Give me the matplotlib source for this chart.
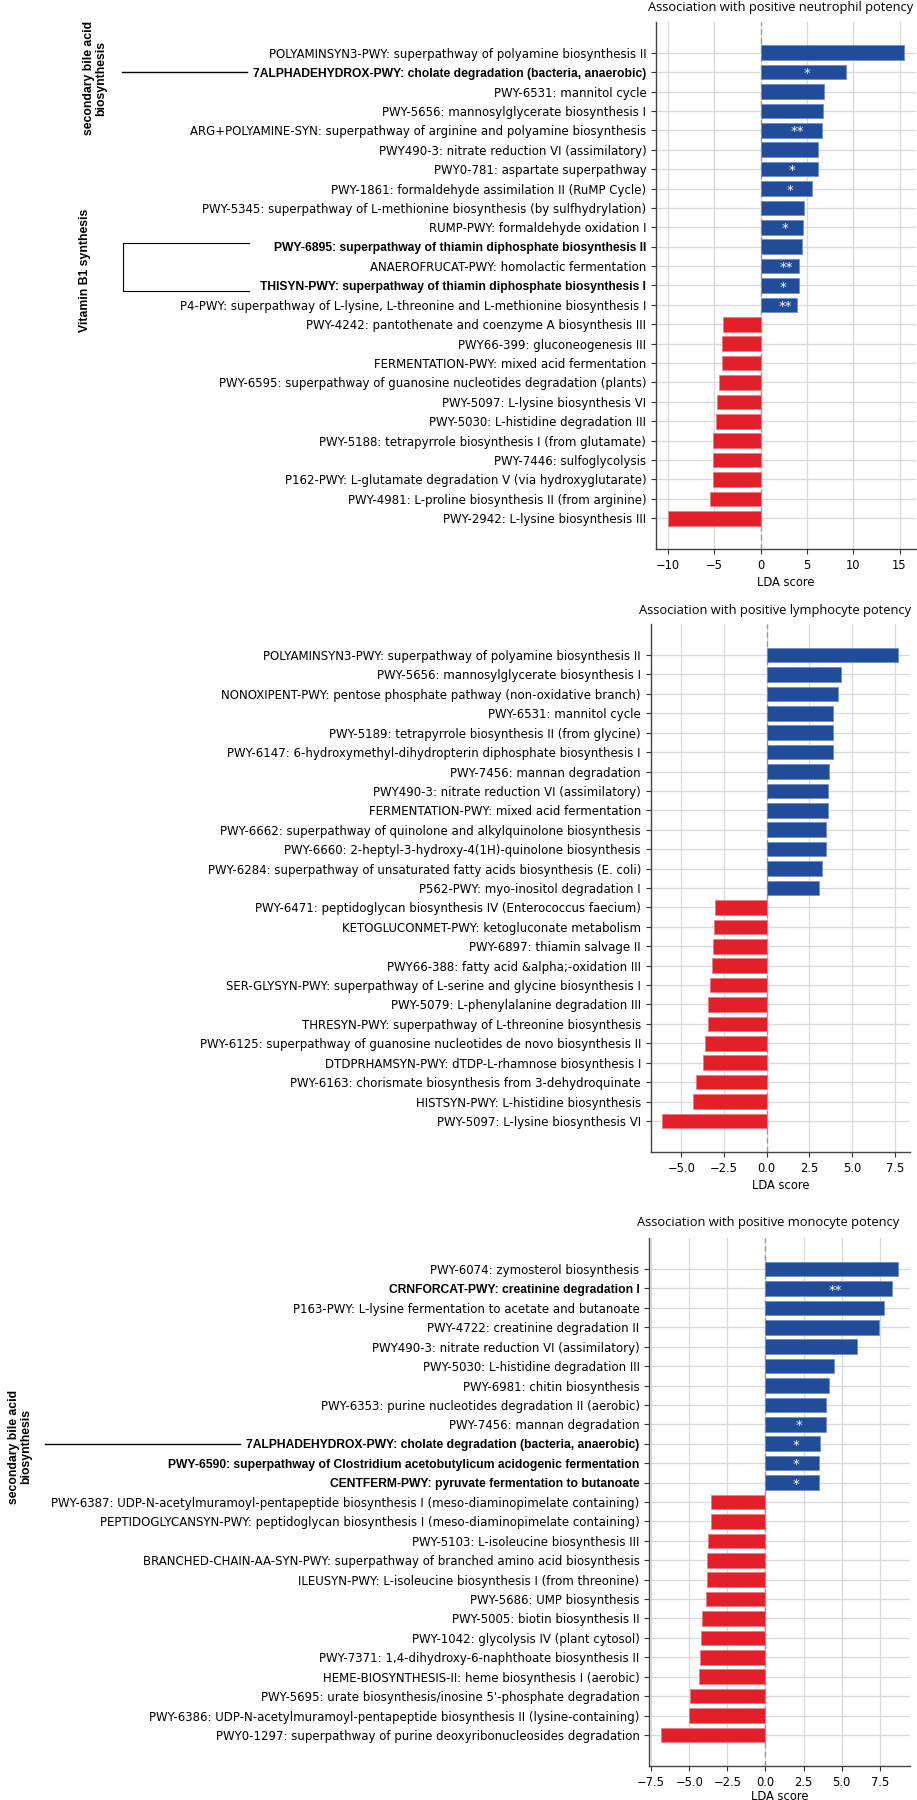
import matplotlib
matplotlib.use("Agg")
import matplotlib.pyplot as plt
from matplotlib.transforms import blended_transform_factory

# ---------------- data ----------------
neut_labels = [
    "POLYAMINSYN3-PWY: superpathway of polyamine biosynthesis II",
    "7ALPHADEHYDROX-PWY: cholate degradation (bacteria, anaerobic)",
    "PWY-6531: mannitol cycle",
    "PWY-5656: mannosylglycerate biosynthesis I",
    "ARG+POLYAMINE-SYN: superpathway of arginine and polyamine biosynthesis",
    "PWY490-3: nitrate reduction VI (assimilatory)",
    "PWY0-781: aspartate superpathway",
    "PWY-1861: formaldehyde assimilation II (RuMP Cycle)",
    "PWY-5345: superpathway of L-methionine biosynthesis (by sulfhydrylation)",
    "RUMP-PWY: formaldehyde oxidation I",
    "PWY-6895: superpathway of thiamin diphosphate biosynthesis II",
    "ANAEROFRUCAT-PWY: homolactic fermentation",
    "THISYN-PWY: superpathway of thiamin diphosphate biosynthesis I",
    "P4-PWY: superpathway of L-lysine, L-threonine and L-methionine biosynthesis I",
    "PWY-4242: pantothenate and coenzyme A biosynthesis III",
    "PWY66-399: gluconeogenesis III",
    "FERMENTATION-PWY: mixed acid fermentation",
    "PWY-6595: superpathway of guanosine nucleotides degradation (plants)",
    "PWY-5097: L-lysine biosynthesis VI",
    "PWY-5030: L-histidine degradation III",
    "PWY-5188: tetrapyrrole biosynthesis I (from glutamate)",
    "PWY-7446: sulfoglycolysis",
    "P162-PWY: L-glutamate degradation V (via hydroxyglutarate)",
    "PWY-4981: L-proline biosynthesis II (from arginine)",
    "PWY-2942: L-lysine biosynthesis III",
]
neut_values = [15.5, 9.24, 6.9, 6.7, 6.58, 6.19, 6.15, 5.54, 4.68, 4.6, 4.5, 4.2, 4.1, 3.96,
               -4.06, -4.2, -4.2, -4.46, -4.68, -4.78, -5.1, -5.1, -5.14, -5.5, -10.0]
neut_stars = ["", "*", "", "", "**", "", "*", "*", "", "*", "", "**", "*", "**",
              "", "", "", "", "", "", "", "", "", "", ""]
neut_bold = [1, 10, 12]

lymph_labels = [
    "POLYAMINSYN3-PWY: superpathway of polyamine biosynthesis II",
    "PWY-5656: mannosylglycerate biosynthesis I",
    "NONOXIPENT-PWY: pentose phosphate pathway (non-oxidative branch)",
    "PWY-6531: mannitol cycle",
    "PWY-5189: tetrapyrrole biosynthesis II (from glycine)",
    "PWY-6147: 6-hydroxymethyl-dihydropterin diphosphate biosynthesis I",
    "PWY-7456: mannan degradation",
    "PWY490-3: nitrate reduction VI (assimilatory)",
    "FERMENTATION-PWY: mixed acid fermentation",
    "PWY-6662: superpathway of quinolone and alkylquinolone biosynthesis",
    "PWY-6660: 2-heptyl-3-hydroxy-4(1H)-quinolone biosynthesis",
    "PWY-6284: superpathway of unsaturated fatty acids biosynthesis (E. coli)",
    "P562-PWY: myo-inositol degradation I",
    "PWY-6471: peptidoglycan biosynthesis IV (Enterococcus faecium)",
    "KETOGLUCONMET-PWY: ketogluconate metabolism",
    "PWY-6897: thiamin salvage II",
    "PWY66-388: fatty acid &alpha;-oxidation III",
    "SER-GLYSYN-PWY: superpathway of L-serine and glycine biosynthesis I",
    "PWY-5079: L-phenylalanine degradation III",
    "THRESYN-PWY: superpathway of L-threonine biosynthesis",
    "PWY-6125: superpathway of guanosine nucleotides de novo biosynthesis II",
    "DTDPRHAMSYN-PWY: dTDP-L-rhamnose biosynthesis I",
    "PWY-6163: chorismate biosynthesis from 3-dehydroquinate",
    "HISTSYN-PWY: L-histidine biosynthesis",
    "PWY-5097: L-lysine biosynthesis VI",
]
lymph_values = [7.69, 4.35, 4.14, 3.9, 3.9, 3.88, 3.63, 3.59, 3.59, 3.48, 3.48, 3.24, 3.03,
                -3.05, -3.11, -3.13, -3.2, -3.3, -3.42, -3.46, -3.63, -3.71, -4.16, -4.33, -6.1]
lymph_stars = [""] * 25
lymph_bold = []

mono_labels = [
    "PWY-6074: zymosterol biosynthesis",
    "CRNFORCAT-PWY: creatinine degradation I",
    "P163-PWY: L-lysine fermentation to acetate and butanoate",
    "PWY-4722: creatinine degradation II",
    "PWY490-3: nitrate reduction VI (assimilatory)",
    "PWY-5030: L-histidine degradation III",
    "PWY-6981: chitin biosynthesis",
    "PWY-6353: purine nucleotides degradation II (aerobic)",
    "PWY-7456: mannan degradation",
    "7ALPHADEHYDROX-PWY: cholate degradation (bacteria, anaerobic)",
    "PWY-6590: superpathway of Clostridium acetobutylicum acidogenic fermentation",
    "CENTFERM-PWY: pyruvate fermentation to butanoate",
    "PWY-6387: UDP-N-acetylmuramoyl-pentapeptide biosynthesis I (meso-diaminopimelate containing)",
    "PEPTIDOGLYCANSYN-PWY: peptidoglycan biosynthesis I (meso-diaminopimelate containing)",
    "PWY-5103: L-isoleucine biosynthesis III",
    "BRANCHED-CHAIN-AA-SYN-PWY: superpathway of branched amino acid biosynthesis",
    "ILEUSYN-PWY: L-isoleucine biosynthesis I (from threonine)",
    "PWY-5686: UMP biosynthesis",
    "PWY-5005: biotin biosynthesis II",
    "PWY-1042: glycolysis IV (plant cytosol)",
    "PWY-7371: 1,4-dihydroxy-6-naphthoate biosynthesis II",
    "HEME-BIOSYNTHESIS-II: heme biosynthesis I (aerobic)",
    "PWY-5695: urate biosynthesis/inosine 5'-phosphate degradation",
    "PWY-6386: UDP-N-acetylmuramoyl-pentapeptide biosynthesis II (lysine-containing)",
    "PWY0-1297: superpathway of purine deoxyribonucleosides degradation",
]
mono_values = [8.71, 8.31, 7.81, 7.48, 5.99, 4.5, 4.17, 3.99, 3.99, 3.57, 3.53, 3.53,
               -3.55, -3.55, -3.79, -3.8, -3.8, -3.9, -4.17, -4.23, -4.3, -4.34, -4.96, -5.04, -6.84]
mono_stars = ["", "**", "", "", "", "", "", "", "*", "*", "*", "*",
              "", "", "", "", "", "", "", "", "", "", "", "", ""]
mono_bold = [1, 9, 10, 11]

titles = ["Association with positive neutrophil potency",
          "Association with positive lymphocyte potency",
          "Association with positive monocyte potency"]

# ---------------- style ----------------
W, H = 917, 1800
BLUE = "#214C99"
RED = "#E3202A"
LABEL_FS = 8.45
BOLD_FS = 8.7
BOLD_FAMILY = "Liberation Sans"

fig = plt.figure(figsize=(W / 100, H / 100), dpi=100)

# axes boxes in pixels: (left, top, right, bottom)
boxes = [(656, 21.7, 916, 549.3), (650.7, 624, 910, 1152), (649.3, 1238, 910, 1766)]
title_pos = [(781, 8), (775, 610.5), (768, 1222.7)]
label_pads = [3, 3, 1]

panels = [
    (neut_labels, neut_values, neut_stars, neut_bold),
    (lymph_labels, lymph_values, lymph_stars, lymph_bold),
    (mono_labels, mono_values, mono_stars, mono_bold),
]

axes = []
for k, ((labels, values, stars, bold), (l, t, r, b)) in enumerate(zip(panels, boxes)):
    ax = fig.add_axes([l / W, 1 - b / H, (r - l) / W, (b - t) / H])
    axes.append(ax)
    n = len(labels)
    ypos = list(range(n))
    colors = [BLUE if v > 0 else RED for v in values]
    edges = ["#6f8fc8" if v > 0 else "#f07a7f" for v in values]
    ax.barh(ypos, values, height=0.75, color=colors, edgecolor=edges, linewidth=0.6, zorder=3)
    ax.set_ylim(n - 1 + 1.6, -1.6)
    ax.margins(x=0.05)
    ax.set_yticks(ypos)
    ax.set_yticklabels(labels, fontsize=LABEL_FS)
    for i in bold:
        lab = ax.get_yticklabels()[i]
        lab.set_fontweight("bold")
        lab.set_family(BOLD_FAMILY)
        lab.set_fontsize(BOLD_FS)
    ax.grid(True, color="#d9d9d9", linewidth=0.9, zorder=0)
    ax.set_axisbelow(True)
    ax.axvline(0, color="#9a9a9a", linestyle=(0, (4, 2.5)), linewidth=1.0, zorder=2)
    for s in ["top", "right"]:
        ax.spines[s].set_visible(False)
    for s in ["left", "bottom"]:
        ax.spines[s].set_color("#444444")
        ax.spines[s].set_linewidth(1.0)
    ax.tick_params(axis="both", colors="#333333", labelcolor="black", length=3.5, width=0.8)
    ax.tick_params(axis="x", labelsize=8.3)
    ax.set_xlabel("LDA score", fontsize=8.3, labelpad=label_pads[k])
    for yv, v, s in zip(ypos, values, stars):
        if s:
            ax.text(v / 2, yv + 0.08, s, color="white", fontsize=9.5, ha="left", va="center", zorder=4)
    tx, ty = title_pos[k]
    fig.text(tx / W, 1 - ty / H, titles[k], fontsize=9.3, family="Open Sans",
             ha="center", va="center")

# ---------------- annotations ----------------
ax1, ax2, ax3 = axes
bt1 = blended_transform_factory(fig.transFigure, ax1.transData)
bt3 = blended_transform_factory(fig.transFigure, ax3.transData)

# neutrophil: secondary bile acid line to row 1
ax1.plot([122 / W, 247 / W], [1, 1], transform=bt1, color="black", lw=1.0, clip_on=False)
fig.text(95 / W, 1 - 78 / H, "secondary bile acid\nbiosynthesis", rotation=90,
         fontsize=8.8, fontweight="bold", family=BOLD_FAMILY, ha="center", va="center",
         linespacing=1.0)
# vitamin B1 bracket
ax1.plot([249 / W, 123 / W, 123 / W, 249 / W], [9.8, 9.8, 12.28, 12.28], transform=bt1,
         color="black", lw=0.8, clip_on=False)
fig.text(85 / W, 1 - 270 / H, "Vitamin B1 synthesis", rotation=90,
         fontsize=8.8, fontweight="bold", family=BOLD_FAMILY, ha="center", va="center")

# monocyte: secondary bile acid line to row 9
ax3.plot([45 / W, 240 / W], [9, 9], transform=bt3, color="black", lw=1.0, clip_on=False)
fig.text(20 / W, 1 - 1447 / H, "secondary bile acid\nbiosynthesis", rotation=90,
         fontsize=8.8, fontweight="bold", family=BOLD_FAMILY, ha="center", va="center",
         linespacing=1.0)

fig.savefig("out.png", dpi=100, facecolor="white")
